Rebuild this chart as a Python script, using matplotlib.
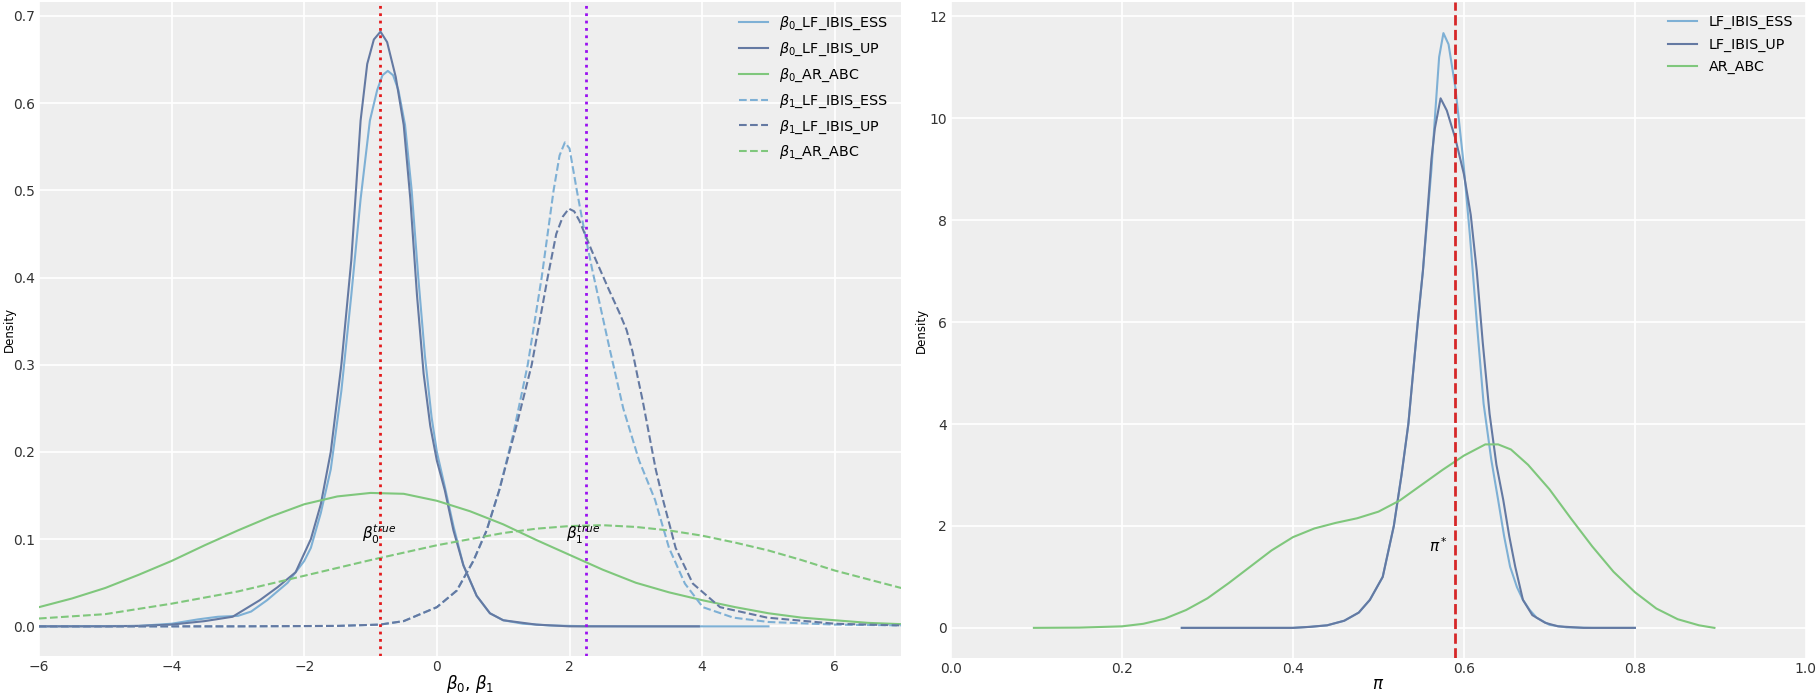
import numpy as np
import matplotlib
matplotlib.use('Agg')
import matplotlib.pyplot as plt

### left panel: densities of beta_0 and beta_1
b0_ess_x = [-6, -4.5, -4.0, -3.6, -3.3, -3.0, -2.8, -2.56, -2.25, -2.0, -1.9, -1.75, -1.6, -1.44, -1.29,
            -1.15, -1.01, -0.9, -0.82, -0.74, -0.66, -0.58, -0.48, -0.38, -0.28, -0.18, -0.08, 0.0, 0.12,
            0.25, 0.4, 0.6, 0.8, 1.0, 1.3, 1.7, 2.2, 3.0, 5.0]
b0_ess_y = [0, 0.0005, 0.003, 0.008, 0.011, 0.012, 0.017, 0.03, 0.05, 0.075, 0.09, 0.13, 0.18, 0.27, 0.38,
            0.49, 0.58, 0.615, 0.632, 0.637, 0.632, 0.615, 0.575, 0.50, 0.40, 0.31, 0.24, 0.20, 0.16,
            0.115, 0.07, 0.035, 0.015, 0.007, 0.003, 0.001, 0.0002, 0, 0]
b0_up_x = [-6, -5.0, -4.5, -4.0, -3.5, -3.08, -2.67, -2.4, -2.13, -1.9, -1.75, -1.6, -1.44, -1.29, -1.15,
           -1.05, -0.95, -0.85, -0.75, -0.62, -0.5, -0.4, -0.3, -0.2, -0.1, 0.0, 0.12, 0.25, 0.4, 0.6,
           0.8, 1.0, 1.5, 2.0, 3.95]
b0_up_y = [0, 0, 0.0005, 0.002, 0.006, 0.011, 0.03, 0.045, 0.062, 0.10, 0.14, 0.20, 0.30, 0.42, 0.58,
           0.645, 0.673, 0.682, 0.67, 0.63, 0.575, 0.49, 0.38, 0.29, 0.23, 0.19, 0.156, 0.11, 0.07, 0.035,
           0.015, 0.007, 0.002, 0, 0]
b0_abc_x = [-6, -5.5, -5, -4.5, -4, -3.5, -3, -2.5, -2, -1.5, -1, -0.5, 0, 0.5, 1, 1.5, 2, 2.5, 3,
            3.5, 4, 4.5, 5, 5.5, 6, 6.5, 7]
b0_abc_y = [0.022, 0.032, 0.044, 0.059, 0.075, 0.093, 0.110, 0.126, 0.140, 0.149, 0.153, 0.152, 0.144,
            0.132, 0.117, 0.099, 0.082, 0.065, 0.050, 0.039, 0.030, 0.022, 0.015, 0.010, 0.007, 0.004, 0.0025]

b1_ess_x = [-6, -3, -1.5, -0.86, -0.5, 0.0, 0.3, 0.55, 0.75, 0.94, 1.15, 1.37, 1.58, 1.76, 1.85, 1.93,
            2.0, 2.11, 2.22, 2.34, 2.47, 2.6, 2.81, 3.05, 3.29, 3.5, 3.74, 4.01, 4.47, 5.0, 6.0, 7.0]
b1_ess_y = [0, 0, 0.0005, 0.002, 0.006, 0.022, 0.041, 0.075, 0.11, 0.156, 0.22, 0.30, 0.40, 0.50, 0.54,
            0.555, 0.548, 0.50, 0.455, 0.41, 0.365, 0.32, 0.25, 0.19, 0.145, 0.09, 0.049, 0.022, 0.010,
            0.005, 0.002, 0.001]
b1_up_x = [-6, -3, -1.5, -0.86, -0.5, 0.0, 0.3, 0.55, 0.75, 0.94, 1.2, 1.43, 1.67, 1.8, 1.9, 1.99,
           2.07, 2.15, 2.34, 2.6, 2.75, 2.86, 2.95, 3.03, 3.1, 3.2, 3.3, 3.41, 3.6, 3.86, 4.27, 4.98, 6.0, 7.0]
b1_up_y = [0, 0, 0.0005, 0.002, 0.006, 0.022, 0.041, 0.075, 0.11, 0.156, 0.23, 0.30, 0.40, 0.45, 0.47,
           0.479, 0.476, 0.465, 0.43, 0.385, 0.36, 0.34, 0.315, 0.285, 0.26, 0.22, 0.18, 0.145, 0.09,
           0.049, 0.022, 0.010, 0.003, 0.001]
b1_abc_x = [-6, -5, -4, -3, -2, -1, 0, 1, 1.5, 2, 2.5, 3, 3.5, 4, 4.5, 5, 5.5, 6, 6.5, 7]
b1_abc_y = [0.009, 0.014, 0.026, 0.040, 0.058, 0.076, 0.093, 0.107, 0.112, 0.115, 0.116, 0.114, 0.110,
            0.104, 0.096, 0.087, 0.076, 0.064, 0.054, 0.044]

beta0_true = -0.85
beta1_true = 2.25

### right panel: density of pi
pi_ess_x = [0.27, 0.40, 0.42, 0.44, 0.46, 0.477, 0.49, 0.505, 0.518, 0.527, 0.535, 0.546, 0.552, 0.557,
            0.562, 0.566, 0.571, 0.576, 0.582, 0.59, 0.599, 0.607, 0.615, 0.623, 0.632, 0.64, 0.647,
            0.654, 0.662, 0.669, 0.677, 0.685, 0.70, 0.72, 0.75, 0.80]
pi_ess_y = [0, 0, 0.02, 0.05, 0.14, 0.3, 0.55, 1.0, 2.0, 3.0, 4.0, 6.0, 7.0, 8.0,
            9.0, 10.0, 11.2, 11.67, 11.45, 10.6, 9.2, 7.7, 6.0, 4.4, 3.3, 2.51, 1.8,
            1.2, 0.8, 0.55, 0.35, 0.2, 0.06, 0.01, 0, 0]
pi_up_x = [0.27, 0.40, 0.42, 0.44, 0.46, 0.477, 0.49, 0.505, 0.518, 0.527, 0.535, 0.546, 0.552, 0.558,
           0.562, 0.566, 0.5727, 0.58, 0.59, 0.60, 0.608, 0.615, 0.622, 0.63, 0.638, 0.646, 0.653,
           0.66, 0.669, 0.68, 0.695, 0.71, 0.74, 0.80]
pi_up_y = [0, 0, 0.02, 0.05, 0.14, 0.3, 0.55, 1.0, 2.0, 3.0, 4.0, 6.0, 7.0, 8.3,
           9.2, 9.8, 10.39, 10.15, 9.6, 8.9, 8.1, 7.0, 5.6, 4.2, 3.2, 2.51, 1.8,
           1.2, 0.55, 0.25, 0.1, 0.03, 0, 0]
pi_abc_x = [0.097, 0.15, 0.2, 0.225, 0.25, 0.275, 0.3, 0.325, 0.35, 0.375, 0.4, 0.425, 0.45, 0.475,
            0.5, 0.525, 0.55, 0.575, 0.6, 0.625, 0.64, 0.655, 0.675, 0.7, 0.725, 0.75, 0.775, 0.8,
            0.825, 0.85, 0.875, 0.893]
pi_abc_y = [0, 0.005, 0.03, 0.08, 0.18, 0.35, 0.58, 0.88, 1.2, 1.52, 1.78, 1.95, 2.06, 2.15,
            2.28, 2.5, 2.8, 3.1, 3.38, 3.6, 3.6, 3.5, 3.2, 2.72, 2.15, 1.6, 1.1, 0.7,
            0.38, 0.17, 0.05, 0]
pi_true = 0.5895

c_ess = '#7eb0d5'
c_up = '#6479a2'
c_abc = '#7fc77c'

matplotlib.rcParams.update({'font.family': 'DejaVu Sans', 'axes.facecolor': '#eeeeee',
                            'axes.edgecolor': 'none', 'xtick.color': '#333333', 'ytick.color': '#333333',
                            'xtick.major.size': 0, 'ytick.major.size': 0,
                            'xtick.major.pad': 3, 'ytick.major.pad': 3,
                            'xtick.labelsize': 10, 'ytick.labelsize': 10})

fig = plt.figure(figsize=(18.19, 6.93), dpi=100)
ax1 = fig.add_axes([0.0214, 0.0534, 0.474, 0.9437])
ax2 = fig.add_axes([0.5228, 0.0506, 0.470, 0.9465])

for ax in (ax1, ax2):
    ax.grid(True, color='white', linewidth=1.2)
    ax.set_axisbelow(True)
    for s in ax.spines.values():
        s.set_visible(False)

lw = 1.5
ax1.plot(b0_ess_x, b0_ess_y, color=c_ess, lw=lw, label=r'$\beta_0$_LF_IBIS_ESS')
ax1.plot(b0_up_x, b0_up_y, color=c_up, lw=lw, label=r'$\beta_0$_LF_IBIS_UP')
ax1.plot(b0_abc_x, b0_abc_y, color=c_abc, lw=lw, label=r'$\beta_0$_AR_ABC')
ax1.plot(b1_ess_x, b1_ess_y, color=c_ess, lw=lw, ls='--', label=r'$\beta_1$_LF_IBIS_ESS')
ax1.plot(b1_up_x, b1_up_y, color=c_up, lw=lw, ls='--', label=r'$\beta_1$_LF_IBIS_UP')
ax1.plot(b1_abc_x, b1_abc_y, color=c_abc, lw=lw, ls='--', label=r'$\beta_1$_AR_ABC')
ax1.axvline(beta0_true, color='#e31a1c', ls=':', lw=2)
ax1.axvline(beta1_true, color='#9a10f0', ls=':', lw=2)
ax1.text(beta0_true - 0.02, 0.106, r'$\beta_0^{true}$', ha='center', va='center', fontsize=11)
ax1.text(beta1_true - 0.05, 0.106, r'$\beta_1^{true}$', ha='center', va='center', fontsize=11)
ax1.set_xlim(-6, 7)
ax1.set_ylim(-0.034, 0.716)
ax1.set_xticks([-6, -4, -2, 0, 2, 4, 6])
ax1.set_xlabel(r'$\beta_0$, $\beta_1$', fontsize=12)
ax1.xaxis.set_label_coords(0.5, -0.026)
ax1.set_ylabel('Density', fontsize=8.5)
ax1.yaxis.set_label_coords(-0.027, 0.5)
ax1.legend(loc='upper right', frameon=False, fontsize=10.3, labelspacing=0.6)

ax2.plot(pi_ess_x, pi_ess_y, color=c_ess, lw=lw, label='LF_IBIS_ESS')
ax2.plot(pi_up_x, pi_up_y, color=c_up, lw=lw, label='LF_IBIS_UP')
ax2.plot(pi_abc_x, pi_abc_y, color=c_abc, lw=lw, label='AR_ABC')
ax2.axvline(pi_true, color='#d62728', ls='--', lw=2)
ax2.text(0.57, 1.62, r'$\pi^*$', ha='center', va='center', fontsize=11)
ax2.set_xlim(0, 1)
ax2.set_ylim(-0.59, 12.28)
ax2.set_xticks([0.0, 0.2, 0.4, 0.6, 0.8, 1.0])
ax2.set_yticks([0, 2, 4, 6, 8, 10, 12])
ax2.set_xlabel(r'$\pi$', fontsize=12)
ax2.xaxis.set_label_coords(0.5, -0.026)
ax2.set_ylabel('Density', fontsize=8.5)
ax2.yaxis.set_label_coords(-0.027, 0.5)
ax2.legend(loc='upper right', frameon=False, fontsize=10.3, labelspacing=0.6)

fig.savefig('out.png', dpi=100)
